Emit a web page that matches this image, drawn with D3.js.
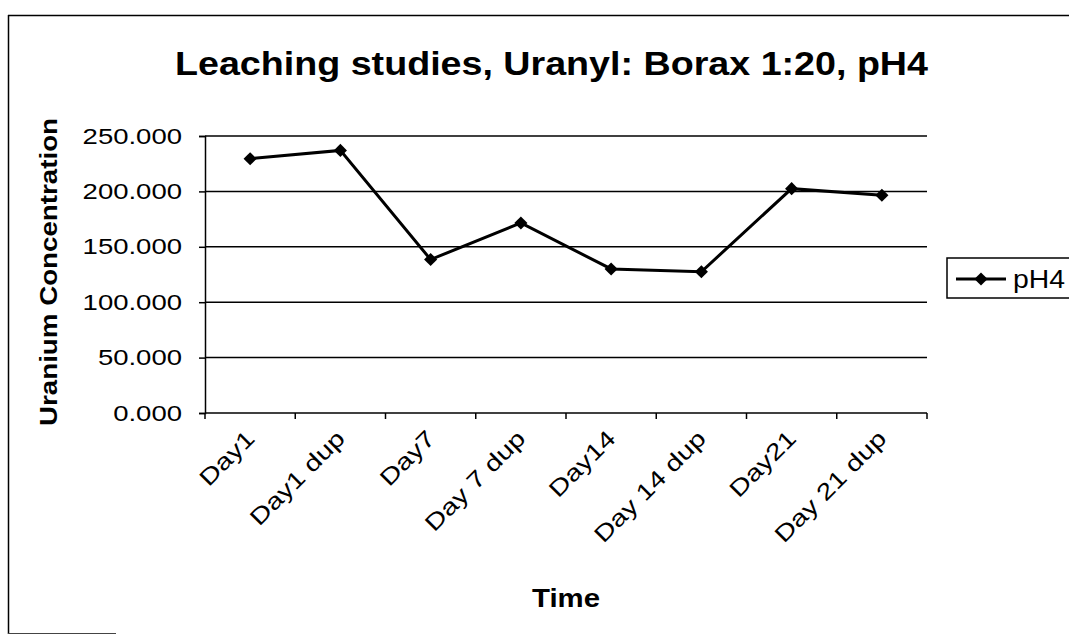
<!DOCTYPE html>
<html>
<head>
<meta charset="utf-8">
<script src="https://cdn.jsdelivr.net/npm/d3@7"></script>
<style>
  body { margin: 0; background: #fff; }
  text { font-family: "Liberation Sans", Arial, sans-serif; fill: #000; }
</style>
</head>
<body>
<script>
// data
var categories = ["Day1", "Day1 dup", "Day7", "Day 7 dup", "Day14", "Day 14 dup", "Day21", "Day 21 dup"];
var ph4Values = [229.5, 237, 138.5, 171.5, 130, 127.5, 202.5, 196.5];
var yTicks = [0, 50, 100, 150, 200, 250];
var seriesName = "pH4";

var margin = {top: 136, right: 142, bottom: 222, left: 205},
    width = 1069 - margin.left - margin.right,
    height = 635 - margin.top - margin.bottom;

// the scanned text renders wider than plain Arial, so stretch it
function stretch(sel, k) {
  sel.each(function() {
    var len = this.getComputedTextLength();
    d3.select(this).attr("textLength", len * k).attr("lengthAdjust", "spacingAndGlyphs");
  });
}

var x = d3.scaleBand().domain(categories).range([0, width]).padding(0);
var y = d3.scaleLinear().domain([0, 250]).range([height, 0]);

var svg = d3.select("body").append("svg")
    .attr("width", 1069)
    .attr("height", 635);

// outer frame (left, top and the short bit of bottom that survives in the scan)
svg.append("line").attr("x1", 8.5).attr("x2", 8.5).attr("y1", 15).attr("y2", 634)
    .attr("stroke", "#000").attr("stroke-width", 1.5);
svg.append("line").attr("x1", 8).attr("x2", 1069).attr("y1", 15.5).attr("y2", 15.5)
    .attr("stroke", "#000").attr("stroke-width", 1.5);
svg.append("line").attr("x1", 8).attr("x2", 116).attr("y1", 633.5).attr("y2", 633.5)
    .attr("stroke", "#444").attr("stroke-width", 1.2);

// title
svg.append("text")
    .attr("x", 551.5)
    .attr("y", 75)
    .attr("text-anchor", "middle")
    .style("font-size", "33px")
    .style("font-weight", "bold")
    .text("Leaching studies, Uranyl: Borax 1:20, pH4")
    .attr("textLength", 753)
    .attr("lengthAdjust", "spacingAndGlyphs");

var g = svg.append("g")
    .attr("transform", "translate(" + margin.left + "," + margin.top + ")");

// gridlines
g.selectAll(".grid")
    .data(yTicks.filter(function(d) { return d > 0; }))
  .enter().append("line")
    .attr("class", "grid")
    .attr("x1", 0)
    .attr("x2", width)
    .attr("y1", function(d) { return y(d); })
    .attr("y2", function(d) { return y(d); })
    .attr("stroke", "#000")
    .attr("stroke-width", 1.5);

// y axis
var yAxis = g.append("g")
    .call(d3.axisLeft(y).tickValues(yTicks).tickSize(6).tickPadding(17)
      .tickFormat(d3.format(".3f")));
yAxis.select(".domain").attr("stroke-width", 1.5);
yAxis.selectAll(".tick line").attr("stroke-width", 1.5);
yAxis.selectAll("text")
    .style("font-size", "22px")
    .style("font-family", "\"Liberation Sans\", Arial, sans-serif")
    .call(stretch, 1.25);

// x axis: ticks sit on the band edges
var xAxis = g.append("g")
    .attr("transform", "translate(0," + height + ")");
xAxis.append("line")
    .attr("x1", 0).attr("x2", width)
    .attr("stroke", "#000").attr("stroke-width", 1.5);
xAxis.selectAll(".edge")
    .data(categories.concat(["end"]))
  .enter().append("line")
    .attr("class", "edge")
    .attr("x1", function(d) { return d === "end" ? width : x(d); })
    .attr("x2", function(d) { return d === "end" ? width : x(d); })
    .attr("y1", 0).attr("y2", 6)
    .attr("stroke", "#000").attr("stroke-width", 1.5);
xAxis.selectAll(".lbl")
    .data(categories)
  .enter().append("text")
    .attr("class", "lbl")
    .attr("text-anchor", "end")
    .attr("transform", function(d) {
      return "translate(" + (x(d) + x.bandwidth() / 2 + 6) + ",27) rotate(-45)";
    })
    .style("font-size", "23px")
    .text(function(d) { return d; })
    .call(stretch, 1.25);

// axis titles
svg.append("text")
    .attr("transform", "translate(57," + 272 + ") rotate(-90)")
    .attr("text-anchor", "middle")
    .style("font-size", "24px")
    .style("font-weight", "bold")
    .text("Uranium Concentration")
    .attr("textLength", 308)
    .attr("lengthAdjust", "spacingAndGlyphs");

svg.append("text")
    .attr("x", 566)
    .attr("y", 607)
    .attr("text-anchor", "middle")
    .style("font-size", "26px")
    .style("font-weight", "bold")
    .text("Time")
    .attr("textLength", 68)
    .attr("lengthAdjust", "spacingAndGlyphs");

// the series
var line = d3.line()
    .x(function(d, i) { return x(categories[i]) + x.bandwidth() / 2; })
    .y(function(d) { return y(d); });

g.append("path")
    .datum(ph4Values)
    .attr("fill", "none")
    .attr("stroke", "#000")
    .attr("stroke-width", 3)
    .attr("d", line);

var diamond = d3.symbol().type(d3.symbolDiamond2).size(110);

g.selectAll(".pt")
    .data(ph4Values)
  .enter().append("path")
    .attr("class", "pt")
    .attr("d", diamond)
    .attr("transform", function(d, i) {
      return "translate(" + (x(categories[i]) + x.bandwidth() / 2) + "," + y(d) + ")";
    })
    .attr("fill", "#000");

// legend
var legend = svg.append("g").attr("transform", "translate(947,258)");
legend.append("rect")
    .attr("width", 140).attr("height", 40)
    .attr("fill", "#fff").attr("stroke", "#000").attr("stroke-width", 1.5);
legend.append("line")
    .attr("x1", 9).attr("x2", 59).attr("y1", 21).attr("y2", 21)
    .attr("stroke", "#000").attr("stroke-width", 3);
legend.append("path")
    .attr("d", diamond)
    .attr("transform", "translate(34,21)")
    .attr("fill", "#000");
legend.append("text")
    .attr("x", 66).attr("y", 30)
    .style("font-size", "25px")
    .text(seriesName)
    .attr("textLength", 52)
    .attr("lengthAdjust", "spacingAndGlyphs");
</script>
</body>
</html>
